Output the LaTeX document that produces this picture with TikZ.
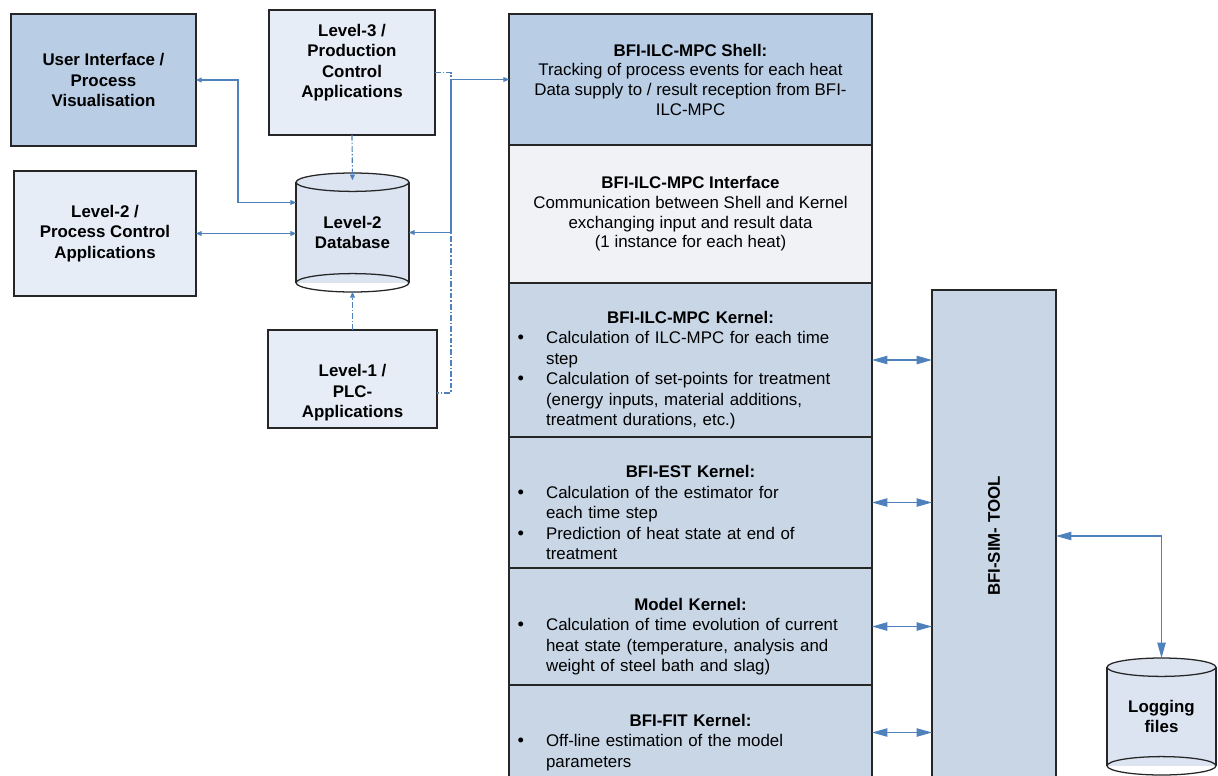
\documentclass[tikz,border=0pt]{standalone}
\usepackage{fontspec}
\setmainfont{Liberation Sans}
\usepackage{enumitem}
\usetikzlibrary{arrows.meta,fit}

\definecolor{linkblue}{HTML}{4F81BD}
\definecolor{darkfill}{HTML}{B9CDE5}
\definecolor{lightfill}{HTML}{E6EDF7}
\definecolor{dbfill}{HTML}{DCE4F1}
\definecolor{iffill}{HTML}{F0F2F6}
\definecolor{kernfill}{HTML}{C8D6E6}

\setlist[itemize]{nosep, leftmargin=0.84cm, labelwidth=0.84cm, labelsep=0pt,
  align=left, label=\hspace{0.13cm}{\fontsize{13}{13}\selectfont\textbullet}}

\tikzset{
  box/.style={draw=black!85, line width=0.9pt, inner sep=0pt, outer sep=0pt},
  cylbox/.style={inner sep=0pt, outer sep=0pt},
  cylline/.style={draw=black!85, line width=0.9pt},
  boxtxt/.style={font=\fontsize{12}{14.5}\selectfont\bfseries, align=center, inner sep=0pt},
  desctxt/.style={font=\fontsize{12}{14}\selectfont, align=center, inner sep=0pt},
  kerntxt/.style={font=\fontsize{12}{14.6}\selectfont, align=left, text width=8.9cm, inner sep=0pt},
  link/.style={draw=linkblue, line width=0.8pt, >={Triangle[length=4pt,width=3.5pt]}},
  biglink/.style={link, >={Triangle[length=11pt,width=6pt]}},
  dashlink/.style={link, dash pattern=on 4pt off 1.5pt on 1pt off 1.5pt}
}

\begin{document}
\begin{tikzpicture}[x=0.025cm, y=-0.025cm]
  \useasboundingbox (0,0) rectangle (1218,776);
  \clip (0,0) rectangle (1218,776);

  % level boxes
  \node[box, fill=darkfill, fit={(11,14) (196,146)}] (ui) {};
  \node[boxtxt] (uitxt) at (ui) {User Interface /\\Process\\Visualisation};
  \node[box, fill=lightfill, fit={(14,171) (196,296)}] (lvltwo) {};
  \node[boxtxt] (lvltwotxt) at (lvltwo) {Level-2 /\\Process Control\\Applications};
  \node[box, fill=lightfill, fit={(269,10) (435,135)}] (lvlthree) {};
  \node[boxtxt, yshift=0.25cm] (lvlthreetxt) at (lvlthree) {Level-3 /\\Production\\Control\\Applications};
  \node[box, fill=lightfill, fit={(268,330) (437,428)}] (lvlone) {};
  \node[boxtxt, yshift=-0.35cm] (lvlonetxt) at (lvlone) {Level-1 /\\PLC-\\Applications};

  % cylinders
  \node[cylbox, fit={(296,173) (409,292)}] (db) {};
  \node[cylbox, fit={(1107,658) (1216,775)}] (log) {};
  \foreach \c/\rad in {db/1.41cm, log/1.36cm}{
    \fill[dbfill] ([yshift=-0.23cm]\c.north west) rectangle ([yshift=0.23cm]\c.south east);
    \draw[cylline] ([yshift=-0.23cm]\c.north west) -- ([yshift=0.23cm]\c.south west)
      ([yshift=-0.23cm]\c.north east) -- ([yshift=0.23cm]\c.south east);
    \draw[cylline, fill=dbfill] ([yshift=-0.23cm]\c.north) ellipse [x radius=\rad, y radius=0.23cm];
    \draw[cylline] ([yshift=0.23cm]\c.south) ellipse [x radius=\rad, y radius=0.23cm];
  }
  \node[boxtxt] (dbtxt) at (db) {Level-2\\Database};
  \node[boxtxt] (logtxt) at (log) {Logging\\files};

  % shell, interface and kernels
  \node[box, fill=darkfill, fit={(509,14) (872,145)}] (shell) {};
  \node[desctxt] (shelltxt) at (shell) {\textbf{BFI-ILC-MPC Shell:}\\Tracking of process events for each heat\\Data supply to / result reception from BFI-\\ILC-MPC};
  \node[box, fill=iffill, line width=1.2pt, fit={(509,145) (872,283)}] (iface) {};
  \node[desctxt] (ifacetxt) at (iface) {\textbf{BFI-ILC-MPC Interface}\\Communication between Shell and Kernel\\exchanging input and result data\\(1 instance for each heat)};
  \node[box, fill=kernfill, fit={(509,283) (872,437)}] (ilck) {};
  \node[box, fill=kernfill, fit={(509,437) (872,568)}] (estk) {};
  \node[box, fill=kernfill, fit={(509,568) (872,685)}] (mdlk) {};
  \node[box, fill=kernfill, fit={(509,685) (872,780)}] (fitk) {};
  \draw[black!85, line width=1.4pt] (shell.south west) -- (shell.south east)
    (iface.south west) -- (iface.south east);

  \node[kerntxt, yshift=-0.25cm] (ilctxt) at (ilck) {{\centering\textbf{BFI-ILC-MPC Kernel:}\par}
    \begin{itemize}
      \item Calculation of ILC-MPC for each time\\step
      \item Calculation of set-points for treatment\\(energy inputs, material additions,\\treatment durations, etc.)
    \end{itemize}};
  \node[kerntxt, yshift=-0.25cm] (esttxt) at (estk) {{\centering\textbf{BFI-EST Kernel:}\par}
    \begin{itemize}
      \item Calculation of the estimator for\\each time step
      \item Prediction of heat state at end of\\treatment
    \end{itemize}};
  \node[kerntxt, yshift=-0.25cm] (mdltxt) at (mdlk) {{\centering\textbf{Model Kernel:}\par}
    \begin{itemize}
      \item Calculation of time evolution of current\\heat state (temperature, analysis and\\weight of steel bath and slag)
    \end{itemize}};
  \node[kerntxt, yshift=-0.25cm] (fittxt) at (fitk) {{\centering\textbf{BFI-FIT Kernel:}\par}
    \begin{itemize}
      \item Off-line estimation of the model\\parameters
    \end{itemize}};

  \node[box, fill=kernfill, fit={(932,290) (1056,782)}] (sim) {};
  \node[boxtxt, rotate=90] (simtxt) at (sim) {BFI-SIM- TOOL};

  % connectors
  \draw[link, <->] (ui.east) -- ++(42,0) |- ([yshift=0.75cm]db.west);
  \draw[link, <->] (lvltwo.east) -- (lvltwo.east -| db.west);
  \draw[link, <->] (shell.west) -- ++(-58,0) |- (db.east);
  \draw[dashlink, ->] (lvlthree.south) -- ([yshift=-0.18cm]db.north);
  \draw[dashlink, ->] (lvlone.north) -- (db.south);
  \draw[dashlink] (lvlthree.east) -- ++(16,0) |- ([yshift=-0.35cm]lvlone.east);
  \foreach \k in {ilck,estk,mdlk,fitk}
    \draw[biglink, <->] (\k.east) -- (sim.west |- \k.east);
  \draw[biglink, <->] (sim.east) -| (log.north);
\end{tikzpicture}
\end{document}
